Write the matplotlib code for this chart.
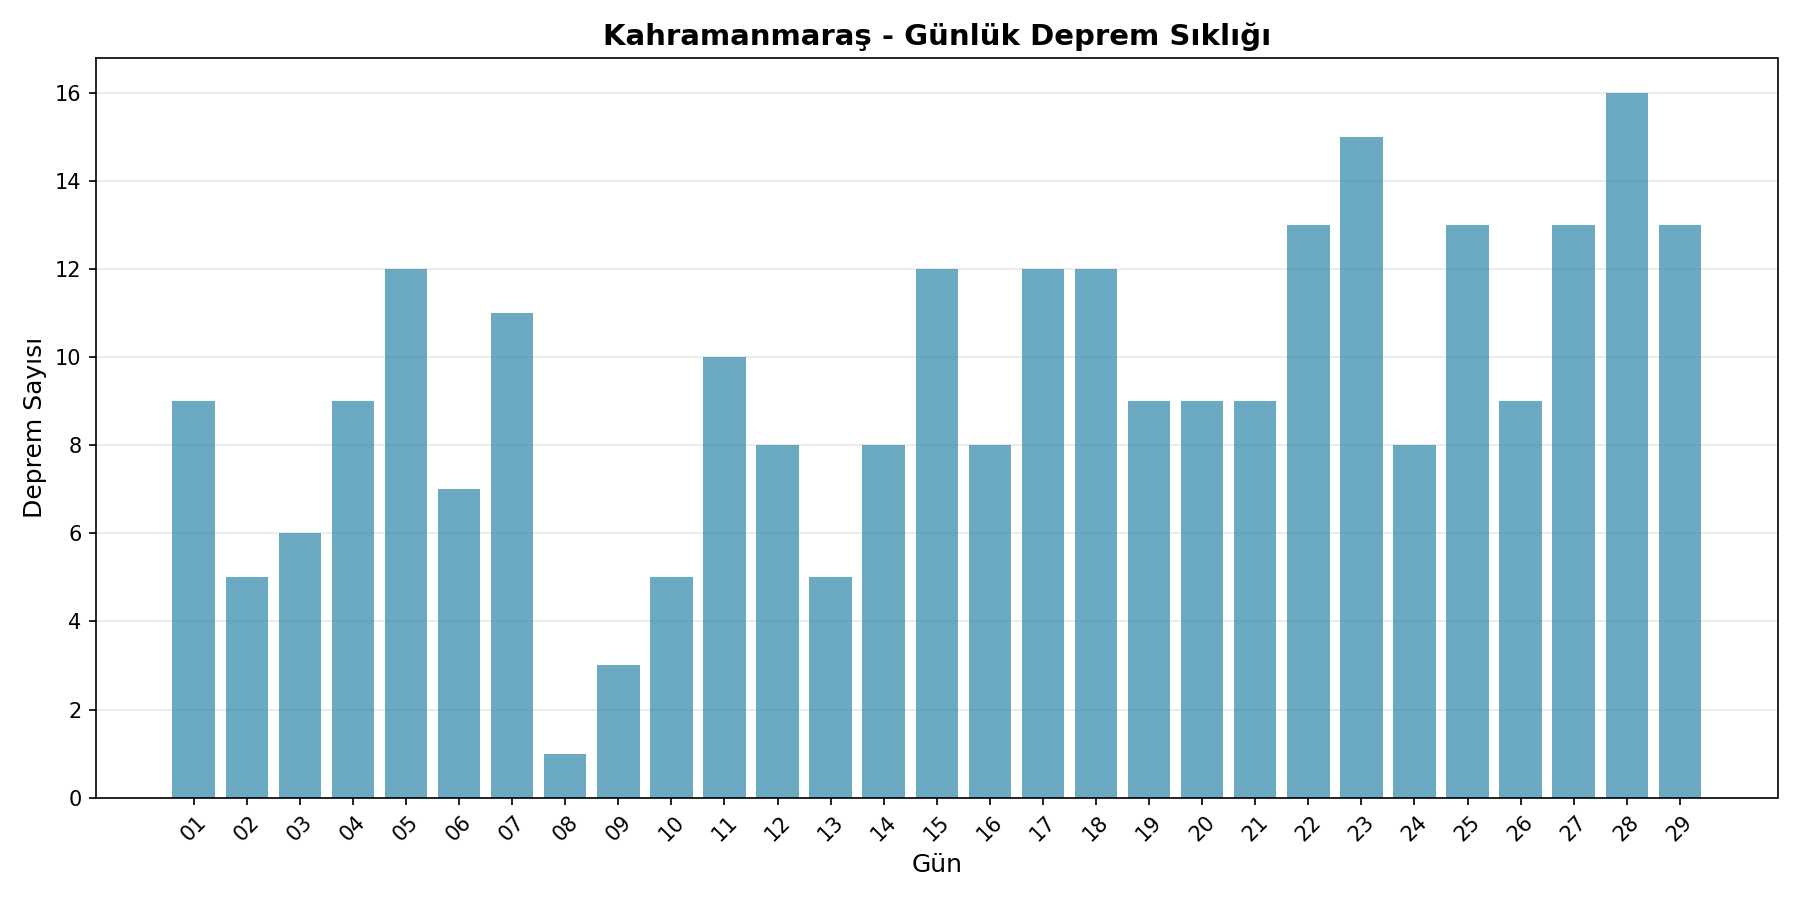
import matplotlib
matplotlib.use("Agg")
import matplotlib.pyplot as plt
import numpy as np

days = ["01", "02", "03", "04", "05", "06", "07", "08", "09", "10",
        "11", "12", "13", "14", "15", "16", "17", "18", "19", "20",
        "21", "22", "23", "24", "25", "26", "27", "28", "29"]
counts = [9, 5, 6, 9, 12, 7, 11, 1, 3, 5,
          10, 8, 5, 8, 12, 8, 12, 12, 9, 9,
          9, 13, 15, 8, 13, 9, 13, 16, 13]

fig, ax = plt.subplots(figsize=(12, 6), dpi=150)
x = np.arange(len(days))
ax.bar(x, counts, color="#2E86AB", alpha=0.7)
ax.set_xticks(x, days, rotation=45)
ax.set_title("Kahramanmaraş - Günlük Deprem Sıklığı", fontsize=14, fontweight="bold")
ax.set_xlabel("Gün", fontsize=12)
ax.set_ylabel("Deprem Sayısı", fontsize=12)
ax.grid(axis="y", alpha=0.3)
ax.set_axisbelow(True)
plt.tight_layout()
plt.savefig("out.png", dpi=150)
